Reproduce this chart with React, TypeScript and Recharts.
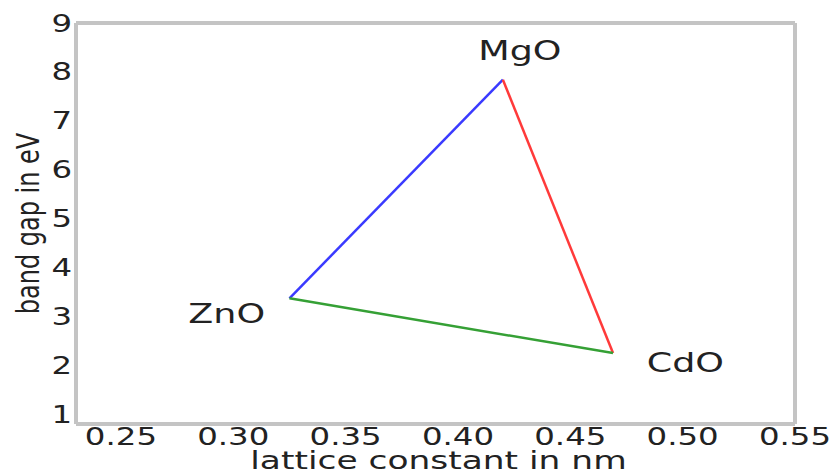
import { ComposedChart, Line, Scatter, XAxis, YAxis } from "recharts"

// lattice constant (nm) and band gap (eV) for each oxide
const compounds = ["ZnO", "MgO", "CdO"]
const latticeNm = [0.325, 0.42, 0.469]
const bandGapEv = [3.37, 7.84, 2.25]

// where each name is written (left edge, baseline) in data units
const labelX = [0.28, 0.409, 0.484]
const labelY = [2.86, 8.24, 1.86]

// edges of the triangle: [from, to, colour]
const edges: [number, number, string][] = [
  [0, 1, "#3a3aff"],
  [1, 2, "#ff3a3a"],
  [0, 2, "#35a035"],
]

const xTicks = [0.25, 0.3, 0.35, 0.4, 0.45, 0.5, 0.55]
const yTicks = [1, 2, 3, 4, 5, 6, 7, 8, 9]

const font = "'DejaVu Sans', sans-serif"
const ink = "#222"
const frame = "#c4c4c4"
// the reference picture is stretched sideways
const sx = 1.35

const labels = compounds.map((name, i) => ({ name, x: labelX[i], y: labelY[i] }))

const Wide = ({ x, y, size, anchor = "start", children }: any) => (
  <text
    transform={`translate(${x},${y}) scale(${sx},1)`}
    textAnchor={anchor}
    fontSize={size}
    fontFamily={font}
    fill={ink}
  >
    {children}
  </text>
)

const NameTag = (props: any) => (
  <Wide x={props.cx} y={props.cy} size={27}>
    {props.payload.name}
  </Wide>
)

const XTick = ({ x, y, payload }: any) => (
  <Wide x={x} y={y + 21} size={24} anchor="middle">
    {payload.value.toFixed(2)}
  </Wide>
)

const YTick = ({ x, y, payload }: any) => (
  <Wide x={x} y={y + 8.5} size={24} anchor="end">
    {payload.value}
  </Wide>
)

export default function App() {
  return (
    <div style={{ position: "absolute", left: 0, top: 0, background: "#fff" }}>
      <ComposedChart width={834} height={472} margin={{ top: 0, right: 0, bottom: 0, left: 0 }}>
        <XAxis
          xAxisId="b"
          type="number"
          dataKey="x"
          domain={[0.23, 0.55]}
          ticks={xTicks}
          allowDataOverflow
          height={48}
          tickSize={0}
          tickMargin={0}
          tick={<XTick />}
          axisLine={{ stroke: frame, strokeWidth: 4 }}
          label={{
            content: ({ viewBox }: any) => (
              <Wide x={viewBox.x + viewBox.width / 2 + 3} y={viewBox.y + 45} size={25.5} anchor="middle">
                lattice constant in nm
              </Wide>
            ),
          }}
        />
        <XAxis
          xAxisId="t"
          orientation="top"
          type="number"
          dataKey="x"
          domain={[0.23, 0.55]}
          allowDataOverflow
          height={23}
          tick={false}
          tickLine={false}
          axisLine={{ stroke: frame, strokeWidth: 4 }}
        />
        <YAxis
          yAxisId="l"
          type="number"
          domain={[0.8, 9]}
          ticks={yTicks}
          allowDataOverflow
          width={76}
          tickSize={0}
          tickMargin={4}
          tick={<YTick />}
          axisLine={{ stroke: frame, strokeWidth: 4 }}
          label={{
            content: ({ viewBox }: any) => {
              const cx = viewBox.x + 28
              const cy = viewBox.y + viewBox.height / 2
              return (
                <text
                  transform={`translate(${cx},${cy}) scale(${sx},1) rotate(-90)`}
                  textAnchor="middle"
                  dominantBaseline="central"
                  fontSize={24}
                  fontFamily={font}
                  fill={ink}
                >
                  band gap in eV
                </text>
              )
            },
          }}
        />
        <YAxis
          yAxisId="r"
          orientation="right"
          type="number"
          domain={[0.8, 9]}
          allowDataOverflow
          width={39}
          tick={false}
          tickLine={false}
          axisLine={{ stroke: frame, strokeWidth: 4 }}
        />
        {edges.map(([a, b, color], i) => (
          <Line
            key={i}
            xAxisId="b"
            yAxisId="l"
            data={[
              { x: latticeNm[a], y: bandGapEv[a] },
              { x: latticeNm[b], y: bandGapEv[b] },
            ]}
            dataKey="y"
            type="linear"
            stroke={color}
            strokeWidth={2.5}
            dot={false}
            activeDot={false}
            isAnimationActive={false}
          />
        ))}
        <Scatter
          xAxisId="b"
          yAxisId="l"
          data={labels}
          dataKey="y"
          shape={NameTag}
          isAnimationActive={false}
        />
      </ComposedChart>
    </div>
  )
}
